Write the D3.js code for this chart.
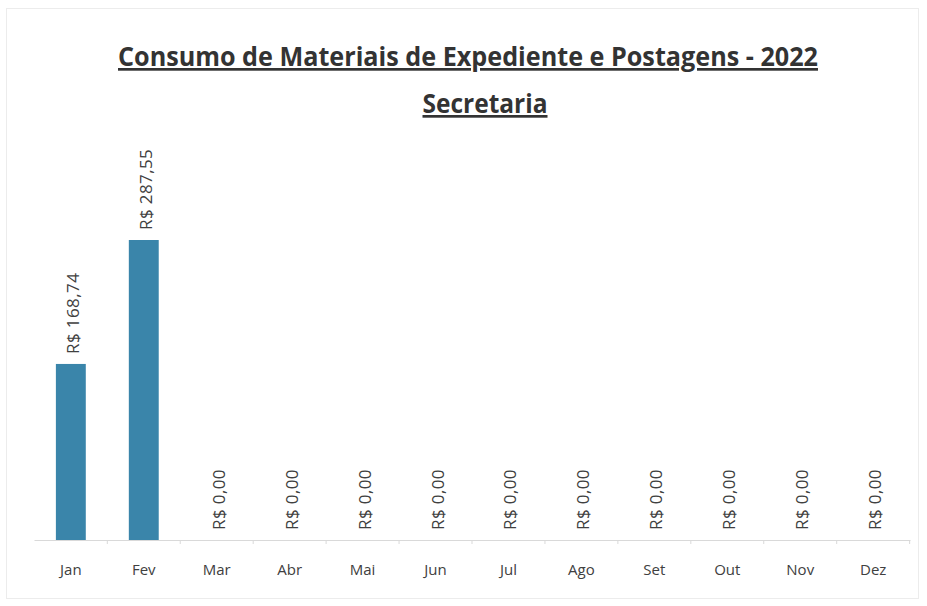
<!DOCTYPE html>
<html>
<head>
<meta charset="utf-8">
<script src="https://cdn.jsdelivr.net/npm/d3@7"></script>
<style>
  body { margin: 0; background: #fff; }
  svg { display: block; }
</style>
</head>
<body>
<div id="chart"></div>
<script>
// Chart data
const months = ["Jan", "Fev", "Mar", "Abr", "Mai", "Jun", "Jul", "Ago", "Set", "Out", "Nov", "Dez"];
const values = [168.74, 287.55, 0, 0, 0, 0, 0, 0, 0, 0, 0, 0];
const titleText = "Consumo de Materiais de Expediente e Postagens - 2022";
const subtitleText = "Secretaria";

const width = 927, height = 606;
const margin = { left: 34, right: 17, top: 140, bottom: 66 };
const baseline = height - margin.bottom;

const svg = d3.select("#chart")
    .append("svg")
    .attr("width", width)
    .attr("height", height);

// Faint outer border
svg.append("rect")
    .attr("x", 6.5).attr("y", 8.5)
    .attr("width", 912).attr("height", 590)
    .attr("fill", "none")
    .attr("stroke", "#ececec");

const x = d3.scaleBand()
    .domain(months)
    .range([margin.left, width - margin.right])
    .paddingInner(0.59)
    .paddingOuter(0.3);

// 168.74 -> about 176px tall
const y = d3.scaleLinear()
    .domain([0, 287.55])
    .range([baseline, 240]);

const fmt = v => "R$ " + d3.format(",.2f")(v).replace(/,/g, "#").replace(".", ",").replace(/#/g, ".");

// Bars
svg.selectAll(".bar")
    .data(values)
    .enter()
    .append("rect")
    .attr("class", "bar")
    .attr("x", (d, i) => x(months[i]))
    .attr("y", d => y(d))
    .attr("width", x.bandwidth())
    .attr("height", d => baseline - y(d))
    .attr("fill", "#3a85aa");

// Axis
const axis = svg.append("g")
    .attr("transform", `translate(0,${baseline})`)
    .call(d3.axisBottom(x).tickSize(4).tickSizeOuter(0));
axis.select(".domain").attr("stroke", "#d9d9d9");
axis.selectAll(".tick line")
    .attr("stroke", "#d9d9d9")
    .attr("transform", `translate(${x.step() / 2},0)`);
axis.selectAll(".tick text")
    .attr("y", 24)
    .attr("fill", "#404040")
    .style("font-family", "'Open Sans', sans-serif")
    .style("font-size", "15px");

// Value labels (rotated)
svg.selectAll(".val")
    .data(values)
    .enter()
    .append("text")
    .attr("class", "val")
    .attr("transform", (d, i) => `translate(${x(months[i]) + x.bandwidth() / 2 + 8},${y(d) - 10}) rotate(-90)`)
    .attr("text-anchor", "start")
    .attr("fill", "#404040")
    .style("font-family", "'Open Sans', sans-serif")
    .style("font-size", "17px")
    .style("letter-spacing", "0.4px")
    .text(d => fmt(d));

// Titles (condensed look via textLength)
svg.append("text")
    .attr("x", 468).attr("y", 66)
    .attr("text-anchor", "middle")
    .attr("textLength", 700)
    .attr("lengthAdjust", "spacingAndGlyphs")
    .attr("fill", "#333")
    .style("font-family", "'Open Sans', sans-serif")
    .style("font-weight", "bold")
    .style("font-size", "27px")
    .style("text-decoration", "underline")
    .text(titleText);

svg.append("text")
    .attr("x", 485).attr("y", 113)
    .attr("text-anchor", "middle")
    .attr("textLength", 125)
    .attr("lengthAdjust", "spacingAndGlyphs")
    .attr("fill", "#333")
    .style("font-family", "'Open Sans', sans-serif")
    .style("font-weight", "bold")
    .style("font-size", "27px")
    .style("text-decoration", "underline")
    .text(subtitleText);
</script>
</body>
</html>
